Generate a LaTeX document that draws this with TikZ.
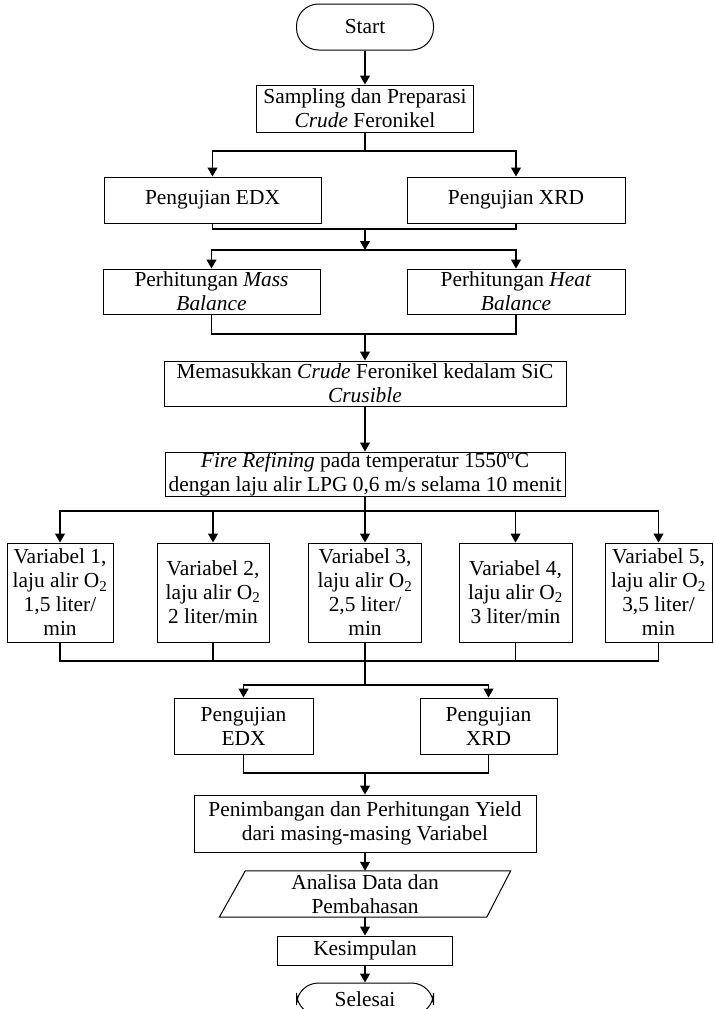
\documentclass[tikz,border=0pt]{standalone}
\usepackage{fontspec}
\setmainfont{Liberation Serif}
\usetikzlibrary{arrows.meta}
\begin{document}
\begin{tikzpicture}[x=1pt,y=-1pt,
  box/.style={draw, line width=1pt, inner sep=0pt, align=center, font=\fontsize{21.4}{24}\selectfont},
  term/.style={box, rounded corners=22pt},
  plain/.style={inner sep=0pt, align=center, font=\fontsize{21.4}{24}\selectfont},
  ln/.style={line width=1.1pt},
  arr/.style={ln, -{Triangle[length=9pt,width=10pt]}}]
\clip (0,0) rectangle (714,1009);
\fill[white] (0,0) rectangle (714,1009);
% nodes
\node[term, minimum width=137, minimum height=46] (start) at (365,27) {Start};
\node[box, minimum width=217, minimum height=47] (samp) at (365,108.5) {Sampling dan Preparasi\\\textit{Crude} Feronikel};
\node[box, minimum width=217, minimum height=46] (edxa) at (212.5,200) {Pengujian EDX};
\node[box, minimum width=218, minimum height=46] (xrda) at (516,200) {Pengujian XRD};
\node[box, minimum width=217, minimum height=45] (mass) at (211.5,291.5) {Perhitungan \textit{Mass}\\\textit{Balance}};
\node[box, minimum width=218, minimum height=45] (heat) at (516,291.5) {Perhitungan \textit{Heat}\\\textit{Balance}};
\node[box, minimum width=402, minimum height=45] (mem) at (365,383.5) {Memasukkan \textit{Crude} Feronikel kedalam SiC\\\textit{Crusible}};
\node[box, minimum width=400, minimum height=44] (fire) at (365,474) {\textit{Fire Refining} pada temperatur 1550\textsuperscript{o}C\\dengan laju alir LPG 0,6 m/s selama 10 menit};
\node[box, minimum width=106, minimum height=99] (va) at (60,592.5) {Variabel 1,\\laju alir O\textsubscript{2}\\1,5 liter/\\min};
\node[box, minimum width=112, minimum height=99] (vb) at (213,592.5) {Variabel 2,\\laju alir O\textsubscript{2}\\2 liter/min};
\node[box, minimum width=113, minimum height=99] (vc) at (365,592.5) {Variabel 3,\\laju alir O\textsubscript{2}\\2,5 liter/\\min};
\node[box, minimum width=113, minimum height=99] (vd) at (515.5,592.5) {Variabel 4,\\laju alir O\textsubscript{2}\\3 liter/min};
\node[box, minimum width=107, minimum height=99] (ve) at (658.5,592.5) {Variabel 5,\\laju alir O\textsubscript{2}\\3,5 liter/\\min};
\node[box, minimum width=139, minimum height=56] (edxb) at (243.5,726) {Pengujian\\EDX};
\node[box, minimum width=137, minimum height=56] (xrdb) at (488.5,726) {Pengujian\\XRD};
\node[box, minimum width=342, minimum height=57] (pen) at (365,823.5) {Penimbangan dan Perhitungan Yield\\dari masing-masing Variabel};
\node[plain, minimum width=291, minimum height=46] (para) at (365,894) {Analisa Data dan\\Pembahasan};
\draw[line width=1pt] ([xshift=26pt]para.north west) -- (para.north east) -- ([xshift=-24pt]para.south east) -- (para.south west) -- cycle;
\node[box, minimum width=175, minimum height=29] (kes) at (365,950.5) {Kesimpulan};
\node[term, minimum width=137, minimum height=32] (sel) at (365,999) {Selesai};
% junction points
\coordinate (s1) at (365,151);
\coordinate (m1) at (365,229);
\coordinate (s2) at (365,250);
\coordinate (m2) at (365,334);
\coordinate (s3) at (365,511);
\coordinate (m3) at (365,661);
\coordinate (s4) at (365,685);
\coordinate (m4) at (365,773);
% connectors
\draw[arr] (start) -- (samp);
\draw[ln] (samp.south) -- (s1);
\draw[arr] (s1) -| (edxa.north);
\draw[arr] (s1) -| (xrda.north);
\draw[ln] (edxa.south) |- (m1) -| (xrda.south);
\draw[arr] (m1) -- (s2);
\draw[arr] (s2) -| (mass.north);
\draw[arr] (s2) -| (heat.north);
\draw[ln] (mass.south) |- (m2) -| (heat.south);
\draw[arr] (m2) -- (mem.north);
\draw[arr] (mem) -- (fire);
\draw[ln] (fire.south) -- (s3);
\foreach \v in {va,vb,vc,vd,ve} \draw[arr] (s3) -| (\v.north);
\draw[ln] (va.south) |- (m3) -| (ve.south);
\draw[ln] (vb.south) -- (vb.south |- m3);
\draw[ln] (vd.south) -- (vd.south |- m3);
\draw[ln] (vc.south) -- (s4);
\draw[arr] (s4) -| (edxb.north);
\draw[arr] (s4) -| (xrdb.north);
\draw[ln] (edxb.south) |- (m4) -| (xrdb.south);
\draw[arr] (m4) -- (pen.north);
\draw[arr] (pen) -- (para);
\draw[arr] (para) -- (kes);
\draw[arr] (kes) -- (sel);
\end{tikzpicture}
\end{document}
